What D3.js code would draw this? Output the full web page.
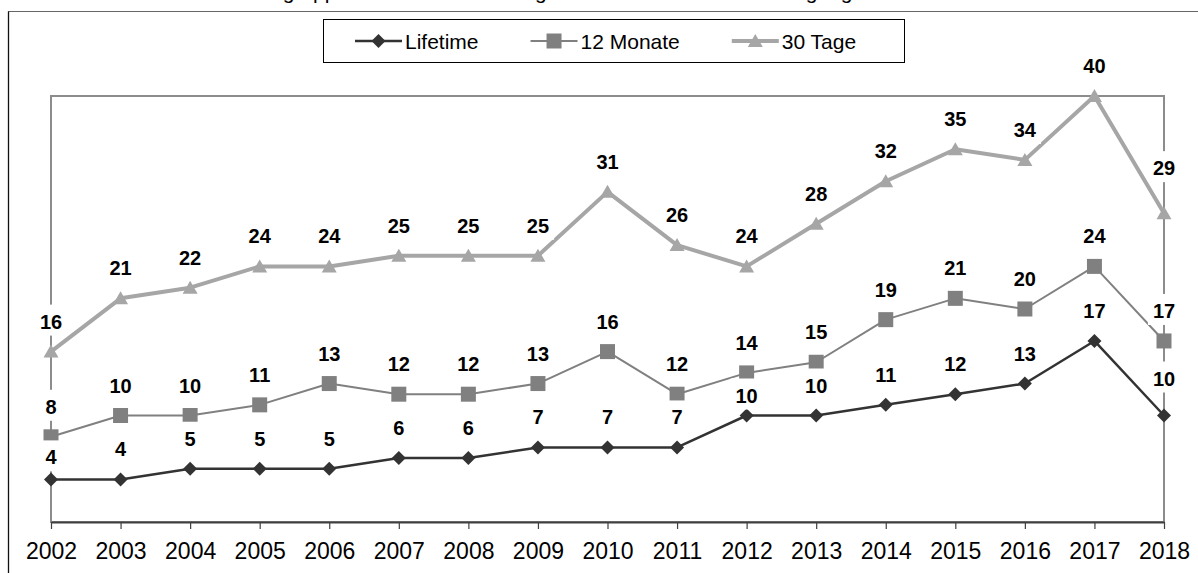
<!DOCTYPE html>
<html><head><meta charset="utf-8">
<script src="https://cdn.jsdelivr.net/npm/d3@7"></script>
<style>
body{margin:0;background:#fff}
svg{display:block}
text{font-family:"Liberation Sans",Arial,sans-serif}
</style></head><body>
<svg id="c" width="1198" height="573"></svg>
<script>
// ---- data ----
const years = [2002,2003,2004,2005,2006,2007,2008,2009,2010,2011,2012,2013,2014,2015,2016,2017,2018];
const lifetime = [4,4,5,5,5,6,6,7,7,7,10,10,11,12,13,17,10];
const monate12 = [8,10,10,11,13,12,12,13,16,12,14,15,19,21,20,24,17];
const tage30   = [16,21,22,24,24,25,25,25,31,26,24,28,32,35,34,40,29];
const seriesNames = ["Lifetime","12 Monate","30 Tage"];
const yDomain = [0,40];
const titleText = "Konsum in der Altersgruppe der 14- bis 17-Jährigen in Schulen laut der Befragung";

// ---- layout / style ----
const W = 1198, H = 573;
const plot = {left:51, right:1164, top:96, bottom:522};
const styles = {
  "Lifetime":  {color:"#333333", width:2.5, shape:"diamond"},
  "12 Monate": {color:"#808080", width:2,   shape:"square"},
  "30 Tage":   {color:"#a6a6a6", width:4,   shape:"triangle"}
};
// label lift above the point (px), with manual overrides as in the original
const defaultLift = 30;
const liftOverrides = {"Lifetime":{2002:22,2012:20,2018:37}, "30 Tage":{2018:45}};

const svg = d3.select("#c");
const x = d3.scalePoint().domain(years).range([plot.left, plot.right]);
const y = d3.scaleLinear().domain(yDomain).range([plot.bottom, plot.top]);

// title (clipped at top in the original)
svg.append("text").attr("x", 89).attr("y", -1).attr("font-size", 21).attr("fill","#000").text(titleText);

// outer chart frame
svg.append("line").attr("x1",8).attr("x2",W).attr("y1",11.5).attr("y2",11.5).attr("stroke","#666").attr("stroke-width",1);
svg.append("line").attr("x1",8.5).attr("x2",8.5).attr("y1",11.5).attr("y2",H).attr("stroke","#111").attr("stroke-width",1.3);

// plot area border
svg.append("rect").attr("x",plot.left).attr("y",plot.top)
  .attr("width",plot.right-plot.left).attr("height",plot.bottom-plot.top)
  .attr("fill","none").attr("stroke","#8c8c8c").attr("stroke-width",2);

// x axis
const ax = svg.append("g").attr("transform",`translate(0,${plot.bottom})`)
  .call(d3.axisBottom(x).tickSize(7).tickSizeOuter(0).tickPadding(14));
ax.select(".domain").attr("stroke","#404040").attr("stroke-width",2);
ax.selectAll(".tick line").attr("stroke","#404040").attr("stroke-width",1.2);
ax.selectAll(".tick text").attr("font-size",23).attr("fill","#000")
  .attr("font-family",'"Liberation Sans",Arial,sans-serif');

function markerPath(shape){
  if(shape==="diamond") return "M0,-7L7,0L0,7L-7,0Z";
  if(shape==="square") return "M-7.5,-7.5H7.5V7.5H-7.5Z";
  return "M0,-7L7.5,6L-7.5,6Z";
}

const series = [
  {name:seriesNames[0], values:lifetime},
  {name:seriesNames[1], values:monate12},
  {name:seriesNames[2], values:tage30}
];

const line = d3.line().x((d,i)=>x(years[i])).y(d=>y(d));
const gLines = svg.append("g");
const gMarks = svg.append("g");
series.forEach(s=>{
  const st = styles[s.name];
  gLines.append("path").datum(s.values).attr("d",line)
    .attr("fill","none").attr("stroke",st.color).attr("stroke-width",st.width)
    .attr("stroke-linejoin","round");
  gMarks.selectAll(null).data(s.values).enter().append("path")
    .attr("d",markerPath(st.shape))
    .attr("transform",(d,i)=>`translate(${x(years[i])},${y(d)})`)
    .attr("fill",st.color);
});

// data labels with white background boxes
const gLab = svg.append("g");
series.forEach(s=>{
  s.values.forEach((v,i)=>{
    const yr = years[i];
    const ov = liftOverrides[s.name] && liftOverrides[s.name][yr];
    const lift = ov!==undefined ? ov : defaultLift;
    const cx = x(yr);
    const base = y(v) - lift + 7;
    const g = gLab.append("g");
    const rect = g.append("rect").attr("fill","#fff");
    const t = g.append("text").attr("x",cx).attr("y",base).attr("text-anchor","middle")
      .attr("font-size",20).attr("font-weight","bold").attr("fill","#000").text(v);
    const w = t.node().getComputedTextLength();
    rect.attr("x",cx-w/2-5).attr("y",base-24).attr("width",w+10).attr("height",31);
  });
});

// legend
const lg = svg.append("g");
lg.append("rect").attr("x",323.5).attr("y",19.5).attr("width",581).attr("height",43)
  .attr("fill","#fff").attr("stroke","#000").attr("stroke-width",1);
let lx = 355;
seriesNames.forEach(n=>{
  const st = styles[n];
  lg.append("line").attr("x1",lx).attr("x2",lx+47).attr("y1",41).attr("y2",41)
    .attr("stroke",st.color).attr("stroke-width",st.width);
  lg.append("path").attr("d",markerPath(st.shape)).attr("transform",`translate(${lx+23.5},41)`).attr("fill",st.color);
  const t = lg.append("text").attr("x",lx+50).attr("y",48.5).attr("font-size",21).attr("fill","#000").text(n);
  lx = lx + 50 + t.node().getComputedTextLength() + 52;
});
</script>
</body></html>
